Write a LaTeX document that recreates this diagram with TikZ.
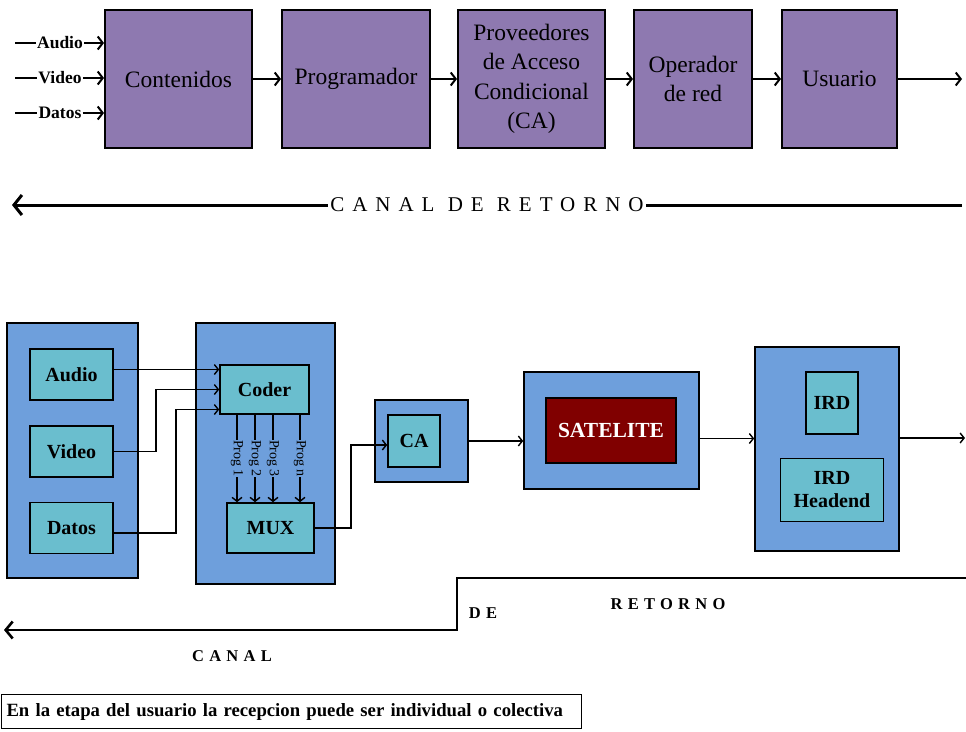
\documentclass[tikz,border=0pt]{standalone}
\usepackage{fontspec}
\setmainfont{Liberation Serif}
\newfontfamily\spacedfont[LetterSpace=38]{Liberation Serif}
\newfontfamily\retfont[LetterSpace=32]{Liberation Serif}
\usetikzlibrary{arrows.meta}
\definecolor{purp}{HTML}{8E79B0}
\definecolor{bluebg}{HTML}{6E9FDC}
\definecolor{cyanbox}{HTML}{6ABECE}
\definecolor{satred}{HTML}{800000}
\begin{document}
\begin{tikzpicture}[x=1pt,y=-1pt,
  purplebox/.style={draw=black, line width=2pt, fill=purp, align=center, inner sep=0pt,
    font=\fontsize{23.5}{29.5}\selectfont, minimum height=138pt},
  outerbox/.style={draw=black, line width=1.6pt, fill=bluebg, inner sep=0pt},
  innerbox/.style={draw=black, line width=1.6pt, fill=cyanbox, inner sep=0pt, align=center,
    font=\bfseries\fontsize{20}{23}\selectfont},
  inlabel/.style={inner sep=1pt, font=\bfseries\fontsize{17.5}{20}\selectfont},
  topconn/.style={line width=2pt, -{Straight Barb[length=5pt,width=13pt]}},
  conn/.style={line width=1.4pt, -{Straight Barb[length=4pt,width=10pt]}},
  retline/.style={line width=3pt, -{Straight Barb[length=8pt,width=20pt]}},
  proglabel/.style={midway, rotate=-90, fill=bluebg, inner sep=0.5pt, font=\fontsize{14}{14}\selectfont},
  retlabel/.style={inner sep=0pt, font=\bfseries\retfont\fontsize{16.5}{18}\selectfont}
]
\useasboundingbox (0,0) rectangle (966,731);

% ---------- top row ----------
\node[purplebox, minimum width=147pt] (cont) at (178.5,79) {Contenidos};
\node[purplebox, minimum width=148pt] (prog) at (356,79) {Programador};
\node[purplebox, minimum width=147pt] (prov) at (531.5,79) {Proveedores\\de Acceso\\Condicional\\(CA)};
\node[purplebox, minimum width=118pt] (oper) at (693,79) {Operador\\de red};
\node[purplebox, minimum width=115pt] (usu) at (839.5,79) {Usuario};
\coordinate (uout) at (962,79);

\draw[topconn] (cont) -- (prog);
\draw[topconn] (prog) -- (prov);
\draw[topconn] (prov) -- (oper);
\draw[topconn] (oper) -- (usu);
\draw[topconn] (usu) -- (uout);

\foreach \nm/\yy/\txt in {ia/43/Audio, iv/78/Video, id/113/Datos}{
  \node[inlabel] (\nm) at (60,\yy) {\txt};
  \coordinate (\nm0) at (15,\yy);
  \draw[line width=2pt] (\nm0) -- (\nm.west);
  \draw[topconn] (\nm.east) -- (\nm.east -| cont.west);
}

% top return channel
\coordinate (tr1) at (962,205);
\coordinate (tr2) at (12,205);
\draw[retline] (tr1) -- (tr2)
  node[pos=0.5, fill=white, inner sep=2pt, font=\spacedfont\fontsize{21}{24}\selectfont] {CANAL DE RETORNO};

% ---------- bottom diagram ----------
\node[outerbox, minimum width=131pt, minimum height=255pt] (lout) at (72.5,450.5) {};
\node[innerbox, minimum width=83pt, minimum height=51pt] (audio) at (71.5,374.5) {Audio};
\node[innerbox, minimum width=83pt, minimum height=51pt] (video) at (71.5,451.5) {Video};
\node[innerbox, minimum width=83pt, minimum height=51pt] (datos) at (71.5,528) {Datos};

\node[outerbox, minimum width=139pt, minimum height=261pt] (cout) at (265.5,453.5) {};
\node[innerbox, minimum width=89pt, minimum height=49pt] (coder) at (264.5,389.5) {Coder};
\node[innerbox, minimum width=87pt, minimum height=50pt] (mux) at (270.5,528) {MUX};

\node[outerbox, minimum width=93pt, minimum height=82pt] (caout) at (421.5,441) {};
\node[innerbox, minimum width=52pt, minimum height=52pt] (cain) at (414,441) {CA};

\node[outerbox, minimum width=175pt, minimum height=117pt] (satout) at (611.5,430.5) {};
\node[draw=black, line width=1.6pt, fill=satred, text=white, minimum width=130pt, minimum height=65pt,
  font=\bfseries\fontsize{21.5}{24}\selectfont] (sat) at (611,430.5) {SATELITE};

\node[outerbox, minimum width=144pt, minimum height=204pt] (irdout) at (827,449) {};
\node[innerbox, minimum width=52pt, minimum height=62pt] (ird) at (832,403) {IRD};
\node[innerbox, minimum width=103pt, minimum height=63pt] (irdh) at (832,490) {IRD\\Headend};

% connectors into coder
\coordinate (c1) at ([yshift=20pt]coder.west);
\coordinate (c3) at ([yshift=-20pt]coder.west);
\draw[conn] (audio.east |- c1) -- (c1);
\draw[conn] (video.east) -- ++(42,0) |- (coder.west);
\draw[conn] ([yshift=-5pt]datos.east) -- ++(62,0) |- (c3);

% Prog arrows
\foreach \px/\lab in {237/1,255/2,273/3,300/n}{
  \coordinate (p\lab) at (\px,0);
  \draw[conn] (coder.south -| p\lab) -- node[proglabel] {Prog \lab} (mux.north -| p\lab);
}

% MUX -> CA
\draw[conn] (mux.east) -- ++(36,0) |- ([yshift=-4pt]cain.west);
% CA -> satellite
\draw[conn] (caout.east) -- (caout.east -| satout.west);
% satellite -> IRD
\draw[conn] ([yshift=-8pt]satout.east) -- ([yshift=-8pt]satout.east -| irdout.west);
% IRD out
\coordinate (iout) at (965,438);
\draw[conn] (irdout.east |- iout) -- (iout);

% bottom return channel
\coordinate (b1) at (966,578);
\coordinate (b2) at (457,578);
\coordinate (b3) at (457,630);
\coordinate (b4) at (4,630);
\draw[line width=2.6pt, -{Straight Barb[length=7pt,width=17pt]}] (b1) -- (b2) -- (b3) -- (b4);
\node[retlabel] (rde) at (483,613) {DE};
\node[retlabel] (rret) at (668,604) {RETORNO};
\node[retlabel] (rcan) at (232,656) {CANAL};

% note box
\node[draw=black, line width=1pt, anchor=north west, text width=570pt, inner sep=5pt, align=left,
  minimum height=34pt, font=\bfseries\fontsize{18.7}{21}\selectfont] (note) at (1,694)
  {En la etapa del usuario la recepcion puede ser individual o colectiva};
\end{tikzpicture}
\end{document}
